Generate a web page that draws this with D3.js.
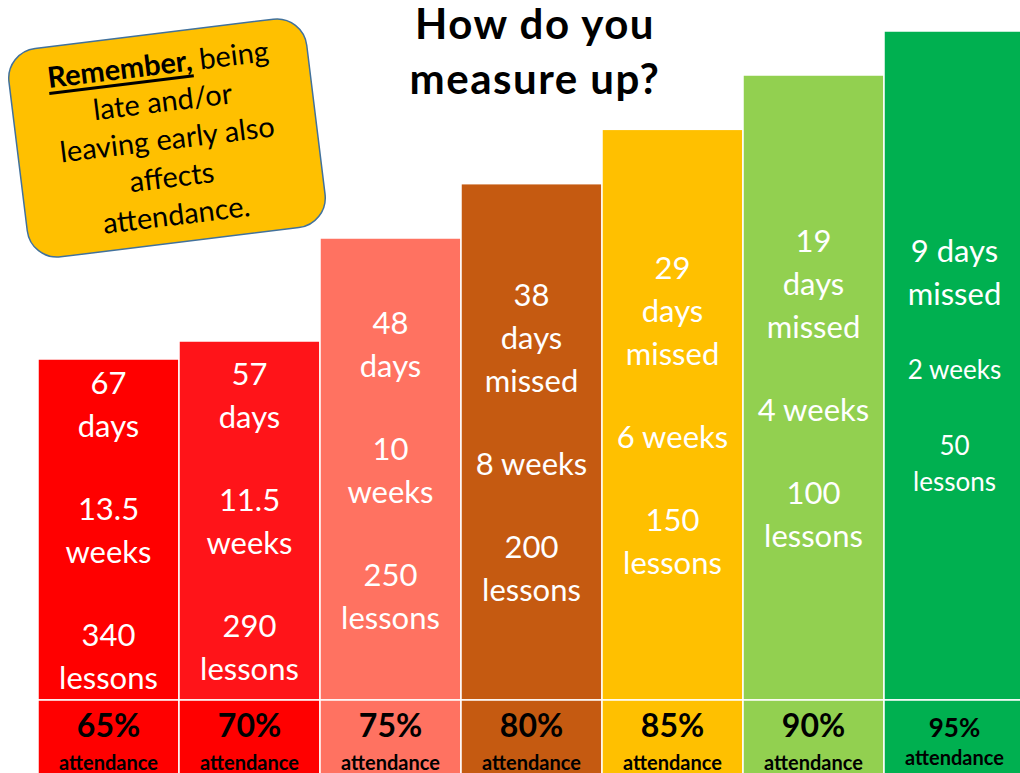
<!DOCTYPE html>
<html>
<head>
<meta charset="utf-8">
<script src="https://cdn.jsdelivr.net/npm/d3@7"></script>
<style>
  body { margin: 0; background: #fff; }
  svg { display: block; }
</style>
</head>
<body>
<div id="chart-area"></div>
<script>
var attendance = [65, 70, 75, 80, 85, 90, 95];
var daysMissed = [67, 57, 48, 38, 29, 19, 9];
var weeksMissed = ["13.5", "11.5", "10", "8", "6", "4", "2"];
var lessonsMissed = [340, 290, 250, 200, 150, 100, 50];

var barColors = ["#ff0000", "#ff1419", "#ff7261", "#c55a11", "#ffc000", "#92d050", "#00b050"];
var cellColors = ["#ff0000", "#ff0000", "#ff7261", "#c55a11", "#ffc000", "#92d050", "#00b050"];

var width = 1020, height = 773;
var base = 700;
var font = "Lato, 'Open Sans', sans-serif";

var svg = d3.select("#chart-area")
  .append("svg")
  .attr("width", width)
  .attr("height", height);

var x = d3.scaleBand()
  .domain(attendance)
  .range([38, 1025])
  .padding(0);

// bar tops are not proportional on the poster, so a piecewise scale
var y = d3.scaleLinear()
  .domain([65, 70, 75, 90, 95])
  .range([359, 341, 238, 75, 31]);

var data = attendance.map((a, i) => ({
  i: i, pct: a, days: daysMissed[i], weeks: weeksMissed[i], lessons: lessonsMissed[i]
}));

// upper bars
svg.selectAll("rect.bar")
  .data(data)
  .enter()
  .append("rect")
    .attr("class", "bar")
    .attr("x", d => x(d.pct))
    .attr("y", d => y(d.pct))
    .attr("width", x.bandwidth())
    .attr("height", d => base - y(d.pct))
    .attr("fill", d => barColors[d.i])
    .attr("stroke", "#fff")
    .attr("stroke-width", 1.5);

// bottom attendance cells
svg.selectAll("rect.cell")
  .data(data)
  .enter()
  .append("rect")
    .attr("class", "cell")
    .attr("x", d => x(d.pct))
    .attr("y", base)
    .attr("width", x.bandwidth())
    .attr("height", 100)
    .attr("fill", d => cellColors[d.i])
    .attr("stroke", "#fff")
    .attr("stroke-width", 1.5);

// white labels inside bars
function labelLines(d) {
  var big = 31, small = d.i === 6 ? 26 : 31;
  var groups = [];
  if (d.i < 3) groups.push([d.days, "days"]);
  else if (d.i < 6) groups.push([d.days, "days", "missed"]);
  else groups.push([d.days + " days", "missed"]);
  if (d.i < 3) groups.push([d.weeks, "weeks"]);
  else groups.push([d.weeks + " weeks"]);
  groups.push([d.lessons, "lessons"]);

  var lines = [], pos = 0;
  groups.forEach((g, gi) => {
    var size = gi === 0 ? big : small;
    var step = size === big ? 43 : 36;
    g.forEach((t, li) => {
      if (lines.length) pos += step + (li === 0 ? 40 : 0);
      lines.push({ text: t, size: size, pos: pos });
    });
  });
  var mid = (y(d.pct) + base) / 2;
  lines.forEach(l => l.y = mid - pos / 2 + l.pos);
  return lines;
}

var labels = svg.selectAll("g.label")
  .data(data)
  .enter()
  .append("g")
    .attr("class", "label")
    .attr("transform", d => "translate(" + (x(d.pct) + x.bandwidth() / 2) + ",0)");

labels.selectAll("text")
  .data(d => labelLines(d))
  .enter()
  .append("text")
    .attr("y", l => l.y)
    .attr("text-anchor", "middle")
    .attr("dominant-baseline", "central")
    .attr("font-family", font)
    .attr("font-size", l => l.size)
    .attr("fill", "#fff")
    .text(l => l.text);

// percentage + "attendance" in the bottom row
var bottom = svg.selectAll("g.bottom")
  .data(data)
  .enter()
  .append("g")
    .attr("class", "bottom")
    .attr("transform", d => "translate(" + (x(d.pct) + x.bandwidth() / 2) + ",0)")
    .attr("font-family", font)
    .attr("font-weight", "bold")
    .attr("fill", "#000")
    .attr("text-anchor", "middle");

bottom.append("text")
  .attr("y", d => d.i === 6 ? 727 : 724)
  .attr("dominant-baseline", "central")
  .attr("font-size", d => d.i === 6 ? 26 : 32)
  .text(d => d.pct + "%");

bottom.append("text")
  .attr("y", d => d.i === 6 ? 757 : 762)
  .attr("dominant-baseline", "central")
  .attr("font-size", 20)
  .text("attendance");

// title
var title = svg.append("text")
  .attr("text-anchor", "middle")
  .attr("font-family", font)
  .attr("font-weight", "bold")
  .attr("font-size", 42)
  .attr("letter-spacing", 1.5)
  .attr("fill", "#000");
title.append("tspan").attr("x", 535).attr("y", 39).text("How do you");
title.append("tspan").attr("x", 535).attr("y", 94).text("measure up?");

// tilted reminder note
var note = svg.append("g")
  .attr("transform", "translate(167,138) rotate(-7)");

note.append("rect")
  .attr("x", -150)
  .attr("y", -105)
  .attr("width", 300)
  .attr("height", 210)
  .attr("rx", 30)
  .attr("fill", "#ffc000")
  .attr("stroke", "#41719c")
  .attr("stroke-width", 1.5);

var noteLines = ["late and/or", "leaving early also", "affects", "attendance."];
var t0 = note.append("text")
  .attr("y", -76)
  .attr("text-anchor", "middle")
  .attr("dominant-baseline", "central")
  .attr("font-family", font)
  .attr("font-size", 29)
  .attr("fill", "#000");
t0.append("tspan")
  .attr("font-weight", "bold")
  .attr("text-decoration", "underline")
  .text("Remember,");
t0.append("tspan").text(" being");

note.selectAll("text.line")
  .data(noteLines)
  .enter()
  .append("text")
    .attr("class", "line")
    .attr("y", (d, i) => -38 + i * 38)
    .attr("text-anchor", "middle")
    .attr("dominant-baseline", "central")
    .attr("font-family", font)
    .attr("font-size", 29)
    .attr("fill", "#000")
    .text(d => d);
</script>
</body>
</html>
